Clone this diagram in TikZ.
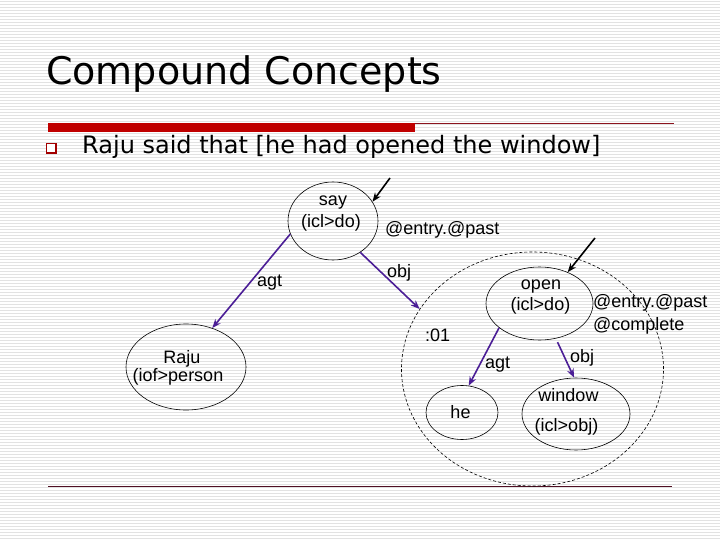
\documentclass[tikz,border=0pt]{standalone}
\usepackage{fontspec}
\setmainfont{Liberation Sans}
\newfontfamily\tahoma{DejaVu Sans}
\usetikzlibrary{shapes.geometric,arrows.meta}
\definecolor{arrowpurple}{RGB}{75,30,150}
\definecolor{barred}{RGB}{192,0,0}
\definecolor{thinred}{RGB}{140,20,30}
\definecolor{bottomline}{RGB}{80,15,35}
\definecolor{stripe}{RGB}{226,226,226}
\tikzset{
  concept/.style={ellipse, draw, line width=0.6pt, inner sep=0pt},
  lbl/.style={anchor=base, inner sep=0pt, font=\fontsize{18}{21}\selectfont},
  lblw/.style={anchor=base west, inner sep=0pt, font=\fontsize{18}{21}\selectfont},
  rel/.style={draw=arrowpurple, line width=1.6pt, -{Stealth[length=9pt,width=7pt]}},
  entryarrow/.style={draw=black, line width=1.6pt, -{Stealth[length=9pt,width=7pt]}},
  scopebox/.style={ellipse, draw, line width=0.6pt, dash pattern=on 3pt off 2pt, inner sep=0pt}
}
\begin{document}
\begin{tikzpicture}[x=1pt,y=-1pt]
\useasboundingbox (0,0) rectangle (720,540);
\fill[white] (0,0) rectangle (720,540);
\foreach \k in {0,...,179} {
  \draw[stripe, line width=1pt] (0,{3*\k+1.5}) -- (720,{3*\k+1.5});
}
% title
\node[anchor=base west, inner sep=0pt, font=\tahoma\fontsize{38}{44}\selectfont] (title) at (46,85) {Compound Concepts};
\fill[barred] (48,123) rectangle (415,132);
\draw[thinred, line width=1pt] (415,123.5) -- (674,123.5);
% bullet
\draw[barred!85!black, line width=1.5pt, fill=white] (46.5,143.5) rectangle (56,153);
\node[anchor=base west, inner sep=0pt, font=\tahoma\fontsize{24}{28}\selectfont] (sub) at (82,154) {Raju said that [he had opened the window]};
% bottom line
\draw[bottomline, line width=1.5pt] (48,486.5) -- (672,486.5);

% concepts
\node[concept, minimum width=90pt, minimum height=78pt] (say) at (333,221) {};
\node[concept, minimum width=120pt, minimum height=86pt] (raju) at (186,367) {};
\node[scopebox, minimum width=262pt, minimum height=234pt] (cpd) at (532.5,369) {};
\node[concept, minimum width=107pt, minimum height=73pt] (open) at (539.5,303.5) {};
\node[concept, minimum width=72pt, minimum height=54pt] (he) at (462,412.5) {};
\node[concept, minimum width=108pt, minimum height=72pt] (window) at (576,414) {};

% texts
\node[lbl] (saytxt) at (333,206) {say};
\node[lbl] (sayicl) at (331,228) {(icl>do)};
\node[lblw] (sayattr) at (385,234) {@entry.@past};
\node[lbl] (rajutxt) at (182,363) {Raju};
\node[lbl] (rajuiof) at (178,381) {(iof>person};
\node[lblw] (scopeid) at (425,341) {:01};
\node[lbl] (opentxt) at (541,289) {open};
\node[lbl] (openicl) at (540.5,310) {(icl>do)};
\node[lblw] (openattr) at (593,307) {@entry.@past};
\node[lblw] (opencomp) at (593,330) {@complete};
\node[lbl] (hetxt) at (460.5,418) {he};
\node[lbl] (wintxt) at (568.5,401) {window};
\node[lbl] (winicl) at (566.5,431) {(icl>obj)};

% relations
\draw[rel] (say.197) -- (raju.56);
\node[lblw] (agt1) at (257,286) {agt};
\draw[rel] (say.311) -- (cpd.152);
\node[lblw] (obj1) at (387,277) {obj};
\draw[rel] (open.211) -- (he.76);
\node[lblw] (agt2) at (485,368) {agt};
\draw[rel, shorten <=4pt] (open.295) -- (window.93);
\node[lblw] (obj2) at (570,362) {obj};

% entry markers
\coordinate (sayin) at (390,178);
\draw[entryarrow] (sayin) -- (say.26);
\coordinate (openin) at (595,238);
\draw[entryarrow] (openin) -- (open.48);
\end{tikzpicture}
\end{document}
